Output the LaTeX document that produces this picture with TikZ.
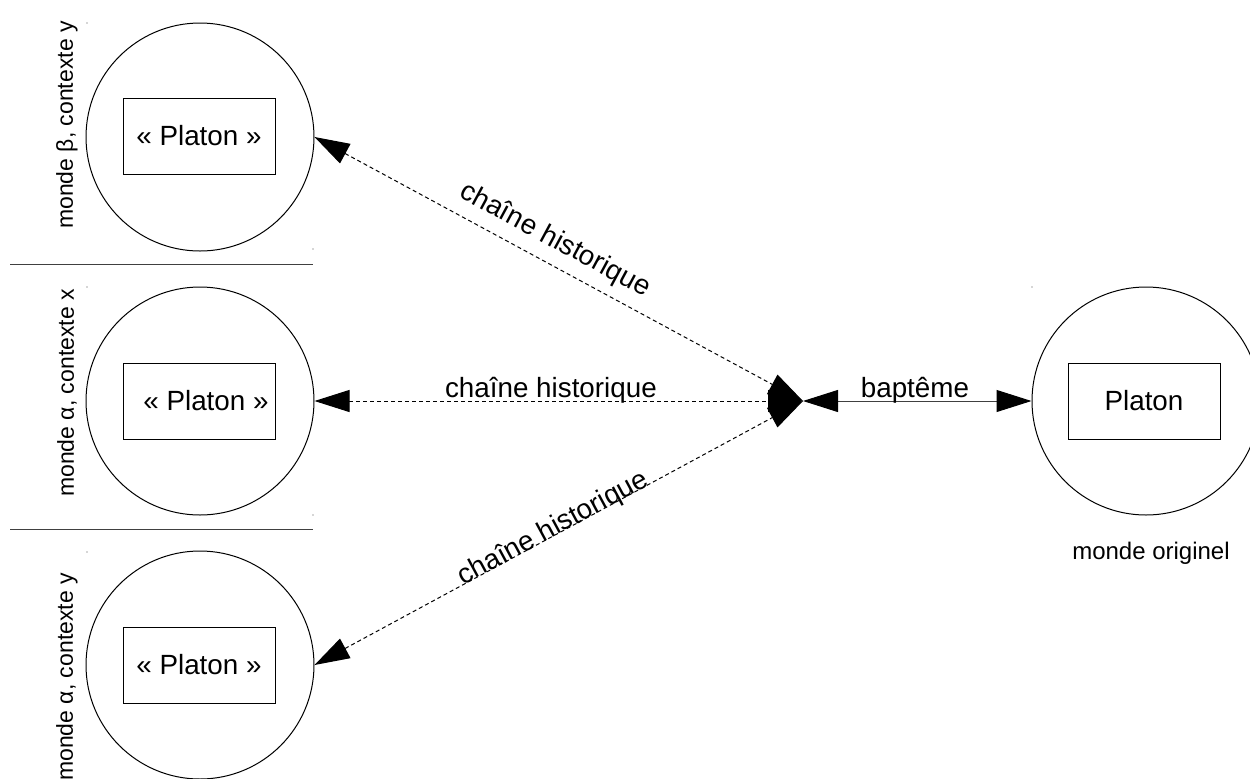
\documentclass[tikz,border=0pt]{standalone}
\usepackage{fontspec}
\setmainfont{Liberation Sans}
\usetikzlibrary{arrows.meta}
\begin{document}
\begin{tikzpicture}[x=0.5pt,y=-0.5pt,
  world/.style={draw,circle,minimum size=114pt,inner sep=0pt,line width=0.5pt},
  namebox/.style={draw,rectangle,minimum width=76pt,minimum height=38pt,inner sep=0pt,line width=0.5pt,font=\fontsize{13.9}{16}\selectfont},
  bigtext/.style={inner sep=0pt,font=\fontsize{13.9}{16}\selectfont},
  sidetext/.style={inner sep=0pt,rotate=90,font=\fontsize{11.5}{14}\selectfont},
  chain/.style={line width=0.5pt,dash pattern=on 2pt off 1.5pt,{Triangle[length=17.5pt,width=11pt]}-{Triangle[length=17.5pt,width=11pt]}},
  bapt/.style={line width=0.5pt,draw=black!75,{Triangle[length=17.5pt,width=11pt,color=black]}-{Triangle[length=17.5pt,width=11pt,color=black]}},
  sep/.style={line width=0.5pt,draw=black!75},
  corner/.style={fill=black!70,draw=none}
]
\useasboundingbox (0,0) rectangle (1250,778);
% worlds
\node[world] (w1) at (200,137) {};
\node[world] (w2) at (200,401) {};
\node[world] (w3) at (200,665) {};
\node[world] (w0) at (1146,401) {};
% boxes
\node[namebox] (b1) at (199,136) {« Platon »};
\node[namebox] (b2) at (199,401) {};
\node[bigtext] (t2) at (206,401) {« Platon »};
\node[namebox] (b3) at (199,665) {« Platon »};
\node[namebox] (b0) at (1144,401) {Platon};
% side labels
\node[sidetext] (l1) at (67,125) {monde β, contexte y};
\node[sidetext] (l2) at (67,393) {monde α, contexte x};
\node[sidetext] (l3) at (67,677) {monde α, contexte y};
\node[inner sep=0pt,font=\fontsize{12}{14}\selectfont] (l0) at (1151,553) {monde originel};
% separators
\coordinate (s1a) at (10,264); \coordinate (s1b) at (313,264);
\coordinate (s2a) at (10,529); \coordinate (s2b) at (313,529);
\draw[sep] (s1a) -- (s1b);
\draw[sep] (s2a) -- (s2b);
% corner dots
\foreach \p in {(87,23),(313,249),(87,287),(313,515),(87,552),(1032,287)}
  \fill[corner] \p circle (0.7);
% hub
\coordinate (hub) at (803,401);
\draw[chain] (w1.east) -- node[pos=0.47,sloped,anchor=base,inner sep=0pt,yshift=8pt,bigtext] {chaîne historique} (hub);
\draw[chain] (w2.east) -- node[pos=0.484,anchor=base,inner sep=0pt,yshift=2pt,bigtext] {chaîne historique} (hub);
\draw[chain] (w3.east) -- node[pos=0.495,sloped,anchor=base,inner sep=0pt,yshift=-0.5pt,bigtext] {chaîne historique} (hub);
\draw[bapt] (hub) -- node[pos=0.49,anchor=base,inner sep=0pt,yshift=2pt,bigtext] {baptême} (w0.west);
\end{tikzpicture}
\end{document}
